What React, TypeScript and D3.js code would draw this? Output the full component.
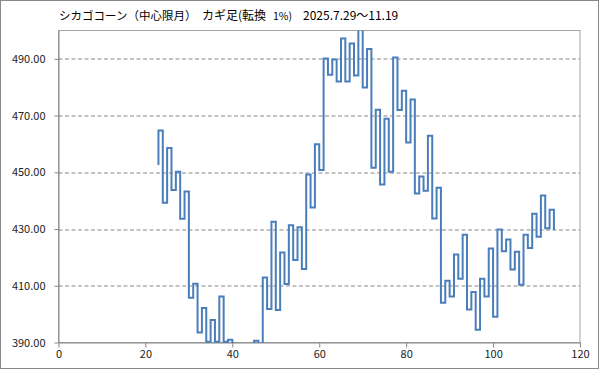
import { useEffect, useRef } from "react"
import * as d3 from "d3"

// Kagi chart steps: first step index, opening price, then one reversal price per step
const firstStep = 23
const openPrice = 452.6
const kagiPrices = [
  464.7, 439.3, 458.6, 443.8, 450.2, 433.6, 443.2, 405.8, 410.7, 393.5,
  402.2, 390.3, 397.9, 390.3, 406.2, 390.3, 391.0, 384.0, 388.0, 381.0,
  387.0, 380.0, 390.6, 386.0, 412.9, 401.8, 432.6, 401.5, 421.7, 410.6,
  431.3, 419.1, 430.6, 415.9, 449.2, 437.6, 459.9, 450.8, 490.1, 484.4,
  489.8, 482.0, 497.2, 482.0, 495.4, 484.1, 501.0, 479.9, 493.5, 451.6,
  472.1, 445.7, 468.9, 450.2, 490.5, 472.0, 478.8, 460.5, 475.7, 442.5,
  448.5, 443.5, 462.9, 433.7, 444.6, 404.0, 411.8, 406.2, 421.0, 412.5,
  428.0, 401.6, 407.8, 394.5, 412.5, 406.2, 423.1, 399.1, 429.8, 422.2,
  426.3, 415.7, 422.0, 410.4, 428.0, 423.3, 435.4, 427.3, 441.8, 430.3,
  436.8, 429.7,
]

const xTicks = [0, 20, 40, 60, 80, 100, 120]
const yTicks = [390, 410, 430, 450, 470, 490]

const titleMain = "シカゴコーン（中心限月）"
const titleKind = "カギ足(転換"
const titleRate = "1%)"
const titlePeriod = "2025.7.29～11.19"

export default function App() {
  const svgRef = useRef<SVGSVGElement>(null)

  useEffect(() => {
    if (!svgRef.current) return
    const svg = d3.select(svgRef.current)
    svg.selectAll("*").remove()

    const width = 599
    const height = 369
    const margin = { top: 30.5, right: 19, bottom: 26.5, left: 58.5 }
    const innerWidth = width - margin.left - margin.right
    const innerHeight = height - margin.top - margin.bottom

    const font = "'Noto Sans CJK JP', 'Noto Sans', sans-serif"

    svg.append("rect")
      .attr("x", 0.5).attr("y", 0.5)
      .attr("width", width - 1).attr("height", height - 1)
      .attr("fill", "#ffffff").attr("stroke", "#888888")

    // title
    const title = svg.append("text")
      .attr("y", 20)
      .attr("font-family", font)
      .attr("font-size", "11.5px")
      .attr("fill", "#000")
    title.append("tspan").attr("x", 59).text(titleMain)
    title.append("tspan").attr("x", 202).attr("font-size", "12px").text(titleKind)
    title.append("tspan").attr("x", 273).attr("font-size", "10.5px").text(titleRate)
    title.append("tspan").attr("x", 303).attr("font-size", "12px").text(titlePeriod)

    const g = svg.append("g").attr("transform", `translate(${margin.left},${margin.top})`)

    const x = d3.scaleLinear().domain([0, 120]).range([0, innerWidth])
    const y = d3.scaleLinear().domain([390, 500]).range([innerHeight, 0])

    // plot area border
    g.append("rect")
      .attr("width", innerWidth).attr("height", innerHeight)
      .attr("fill", "none").attr("stroke", "#a6a6a6")

    // dashed grid
    g.selectAll(".grid")
      .data(yTicks.filter((d) => d > 390))
      .join("line")
      .attr("class", "grid")
      .attr("x1", 0).attr("x2", innerWidth)
      .attr("y1", (d) => Math.round(y(d)) + 0.5)
      .attr("y2", (d) => Math.round(y(d)) + 0.5)
      .attr("stroke", "#868686")
      .attr("stroke-dasharray", "4,2.5")

    // axes
    g.append("g")
      .attr("transform", `translate(0,${innerHeight})`)
      .call(d3.axisBottom(x).tickValues(xTicks).tickSize(5).tickPadding(3).tickSizeOuter(0))
      .call((a) => a.select(".domain").attr("stroke", "#868686"))
      .call((a) => a.selectAll(".tick line").attr("stroke", "#868686"))
      .call((a) => a.selectAll("text").attr("font-family", font).attr("font-size", "11px").attr("fill", "#222"))

    g.append("g")
      .call(d3.axisLeft(y).tickValues(yTicks).tickFormat(d3.format(".2f")).tickSize(4).tickPadding(9).tickSizeOuter(0))
      .call((a) => a.select(".domain").attr("stroke", "#868686"))
      .call((a) => a.selectAll(".tick line").attr("stroke", "#868686"))
      .call((a) => a.selectAll("text").attr("font-family", font).attr("font-size", "11px").attr("fill", "#222"))

    // kagi line, clipped to plot area
    svg.append("clipPath").attr("id", "plot-clip")
      .append("rect")
      .attr("x", 0).attr("y", 0)
      .attr("width", innerWidth).attr("height", innerHeight + 0.5)

    const path = d3.path()
    path.moveTo(x(firstStep), y(openPrice))
    kagiPrices.forEach((p, i) => {
      const step = firstStep + i
      if (i > 0) path.lineTo(x(step), y(kagiPrices[i - 1]))
      path.lineTo(x(step), y(p))
    })

    g.append("path")
      .attr("clip-path", "url(#plot-clip)")
      .attr("d", path.toString())
      .attr("fill", "none")
      .attr("stroke", "#4a7ebb")
      .attr("stroke-width", 2)
      .attr("stroke-linejoin", "miter")
  }, [])

  return (
    <svg
      ref={svgRef}
      width={599}
      height={369}
      style={{ position: "absolute", left: 0, top: 0, display: "block" }}
    />
  )
}
